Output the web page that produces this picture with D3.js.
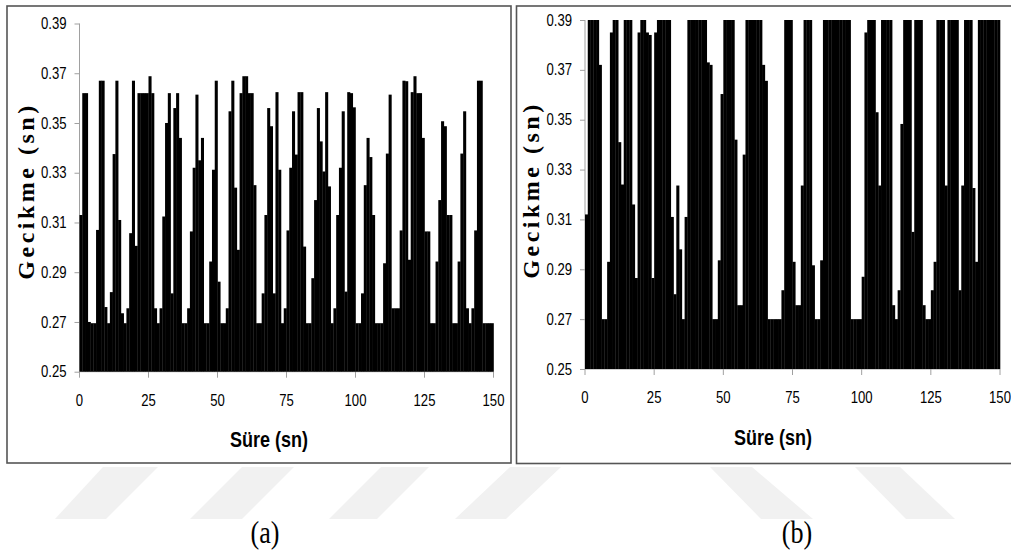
<!DOCTYPE html>
<html>
<head>
<meta charset="utf-8">
<script src="https://cdn.jsdelivr.net/npm/d3@7"></script>
<style>
  html, body { margin: 0; padding: 0; background: #fff; }
  svg { display: block; }
  .axis text { font-family: "Liberation Sans", Arial, sans-serif; font-size: 16px; fill: #000; }
  .axis line, .axis path { stroke: #a0a0a0; }
</style>
</head>
<body>
<div id="chart"></div>
<script>
// tick labels
var timeTicks = [0, 25, 50, 75, 100, 125, 150];
var delayTicks = [0.25, 0.27, 0.29, 0.31, 0.33, 0.35, 0.37, 0.39];
var yTitle = "Gecikme (sn)";
var xTitle = "Süre (sn)";
var captions = ["(a)", "(b)"];

// peak delay per second, panel (a)
var delayA = [
  0.313, 0.362, 0.362, 0.270, 0.2695, 0.2695, 0.307, 0.367, 0.367, 0.276,
  0.2695, 0.282, 0.3375, 0.367, 0.311, 0.2735, 0.2695, 0.2755, 0.3057, 0.367,
  0.3006, 0.362, 0.362, 0.362, 0.362, 0.3688, 0.362, 0.2755, 0.2695, 0.2755,
  0.3124, 0.350, 0.362, 0.2815, 0.356, 0.362, 0.344, 0.2695, 0.2695, 0.2755,
  0.3064, 0.332, 0.3614, 0.335, 0.344, 0.2695, 0.2695, 0.2943, 0.3312, 0.367,
  0.2862, 0.2695, 0.2695, 0.2755, 0.3547, 0.367, 0.324, 0.299, 0.362, 0.3688,
  0.3688, 0.362, 0.362, 0.325, 0.2695, 0.2695, 0.2815, 0.313, 0.356, 0.3487,
  0.2815, 0.3624, 0.3312, 0.2695, 0.2755, 0.3068, 0.332, 0.3547, 0.3373, 0.3624,
  0.3624, 0.3003, 0.2695, 0.2695, 0.2876, 0.319, 0.356, 0.3426, 0.3305, 0.3624,
  0.3245, 0.2695, 0.2755, 0.313, 0.332, 0.3547, 0.2822, 0.3624, 0.362, 0.3563,
  0.2695, 0.2695, 0.2815, 0.325, 0.344, 0.3363, 0.313, 0.2695, 0.2695, 0.2695,
  0.2936, 0.3377, 0.3614, 0.2755, 0.2755, 0.2755, 0.3068, 0.367, 0.3668, 0.295,
  0.3624, 0.3688, 0.362, 0.362, 0.344, 0.3064, 0.3064, 0.2695, 0.2695, 0.2943,
  0.319, 0.3507, 0.3487, 0.313, 0.313, 0.2695, 0.2695, 0.2943, 0.3377, 0.3547,
  0.2755, 0.2695, 0.2755, 0.3068, 0.367, 0.367, 0.2695, 0.2695, 0.2695, 0.2695
];

// peak delay per second, panel (b) (clipped at 0.39)
var delayB = [
  0.312, 0.39, 0.39, 0.39, 0.39, 0.372, 0.27, 0.27, 0.293, 0.385,
  0.39, 0.39, 0.341, 0.324, 0.39, 0.39, 0.39, 0.316, 0.2865, 0.385,
  0.39, 0.39, 0.385, 0.384, 0.2865, 0.385, 0.39, 0.39, 0.39, 0.39,
  0.39, 0.311, 0.28, 0.3236, 0.298, 0.27, 0.311, 0.39, 0.39, 0.39,
  0.39, 0.39, 0.39, 0.39, 0.373, 0.372, 0.27, 0.27, 0.2936, 0.3603,
  0.39, 0.39, 0.39, 0.39, 0.342, 0.2756, 0.2756, 0.336, 0.39, 0.39,
  0.39, 0.39, 0.39, 0.39, 0.372, 0.3656, 0.27, 0.27, 0.27, 0.27,
  0.27, 0.2816, 0.39, 0.39, 0.39, 0.293, 0.2756, 0.2756, 0.3236, 0.39,
  0.39, 0.39, 0.2916, 0.27, 0.27, 0.2936, 0.39, 0.39, 0.39, 0.39,
  0.39, 0.39, 0.39, 0.39, 0.39, 0.39, 0.27, 0.27, 0.27, 0.27,
  0.287, 0.385, 0.39, 0.39, 0.39, 0.353, 0.3236, 0.39, 0.39, 0.39,
  0.39, 0.2756, 0.27, 0.2816, 0.3483, 0.39, 0.39, 0.39, 0.305, 0.39,
  0.39, 0.39, 0.2756, 0.27, 0.27, 0.2816, 0.293, 0.39, 0.39, 0.39,
  0.3236, 0.39, 0.39, 0.39, 0.39, 0.2816, 0.3236, 0.39, 0.39, 0.39,
  0.3226, 0.293, 0.39, 0.39, 0.39, 0.39, 0.39, 0.39, 0.39, 0.39
];

var width = 1011, height = 552;
var narrow = 0.82; // squeeze factor, the source fonts are condensed

var svg = d3.select("#chart")
  .append("svg")
  .attr("width", width)
  .attr("height", height);

// faint watermark stripes under the panels
var stripes = [
  [[103, 467], [158, 467], [106, 519], [55, 519]],
  [[242, 467], [294, 467], [242, 519], [190, 519]],
  [[381, 467], [429, 467], [377, 519], [329, 519]],
  [[510, 467], [561, 467], [506, 519], [455, 519]],
  [[710, 467], [752, 467], [813, 519], [761, 519]],
  [[855, 467], [900, 467], [955, 519], [906, 519]]
];
svg.append("g")
  .selectAll("polygon")
  .data(stripes)
  .enter().append("polygon")
  .attr("points", function(d) { return d.join(" "); })
  .attr("fill", "#f1f1f1");

var panels = [
  { values: delayA, frame: [7, 6, 504, 457], left: 79.5, right: 493.5, top: 23.5, bottom: 371.7,
    yTitleX: 34, yTitleY: 191, xTitleX: 269, xTitleY: 447, captionX: 265, captionY: 543 },
  { values: delayB, frame: [516.5, 6, 500, 457.5], left: 585, right: 1000, top: 20, bottom: 369,
    yTitleX: 539, yTitleY: 190, xTitleX: 773, xTitleY: 445, captionX: 797, captionY: 543 }
];

panels.forEach(function(p, k) {
  var xPositionScale = d3.scaleLinear()
    .domain([timeTicks[0], timeTicks[timeTicks.length - 1]])
    .range([p.left, p.right]);

  var yPositionScale = d3.scaleLinear()
    .domain([delayTicks[0], delayTicks[delayTicks.length - 1]])
    .range([p.bottom, p.top]);

  var g = svg.append("g");

  g.append("rect")
    .attr("x", p.frame[0])
    .attr("y", p.frame[1])
    .attr("width", p.frame[2])
    .attr("height", p.frame[3])
    .attr("fill", "#fff")
    .attr("stroke", "#555")
    .attr("stroke-width", 1.6);

  // axes first, bars drawn over them
  var yAxis = d3.axisLeft(yPositionScale)
    .tickValues(delayTicks)
    .tickFormat(d3.format(".2f"))
    .tickSize(5)
    .tickPadding(8);
  g.append("g")
    .attr("class", "axis y-axis")
    .attr("transform", "translate(" + p.left + ",0)")
    .call(yAxis);

  var xAxis = d3.axisBottom(xPositionScale)
    .tickValues(timeTicks)
    .tickSize(6)
    .tickPadding(17);
  g.append("g")
    .attr("class", "axis x-axis")
    .attr("transform", "translate(0," + p.bottom + ")")
    .call(xAxis);

  g.selectAll(".y-axis text")
    .attr("x", -13 / narrow)
    .attr("transform", "scale(" + narrow + ",1)");
  g.selectAll(".x-axis text")
    .attr("transform", "scale(" + narrow + ",1)")
    .attr("x", function() { return 0; });
  g.selectAll(".x-axis .tick")
    .attr("transform", function(d) { return "translate(" + xPositionScale(d) + ",0)"; });

  g.selectAll(".axis .domain")
    .attr("d", null);
  g.select(".y-axis").append("line")
    .attr("y1", p.top).attr("y2", p.bottom)
    .attr("stroke", "#a0a0a0");
  g.select(".x-axis").append("line")
    .attr("x1", p.left).attr("x2", p.right)
    .attr("stroke", "#a0a0a0");

  var step = xPositionScale(1) - xPositionScale(0);
  g.append("g")
    .selectAll("rect")
    .data(p.values)
    .enter().append("rect")
    .attr("x", function(d, i) { return xPositionScale(i); })
    .attr("width", step + 0.3)
    .attr("y", function(d) { return yPositionScale(d); })
    .attr("height", function(d) { return yPositionScale(delayTicks[0]) - yPositionScale(d); })
    .attr("fill", "#000");

  g.append("text")
    .attr("transform", "translate(" + p.yTitleX + "," + p.yTitleY + ") rotate(-90)")
    .attr("text-anchor", "middle")
    .style("font-family", "'Liberation Serif', 'Times New Roman', serif")
    .style("font-weight", "bold")
    .style("font-size", "24px")
    .style("letter-spacing", "3.5px")
    .text(yTitle);

  g.append("text")
    .attr("transform", "translate(" + p.xTitleX + "," + p.xTitleY + ") scale(" + narrow + ",1)")
    .attr("text-anchor", "middle")
    .style("font-family", "'Liberation Sans', Arial, sans-serif")
    .style("font-weight", "bold")
    .style("font-size", "22px")
    .text(xTitle);

  svg.append("text")
    .attr("transform", "translate(" + p.captionX + "," + p.captionY + ") scale(0.9,1.1)")
    .attr("text-anchor", "middle")
    .style("font-family", "'Liberation Serif', 'Times New Roman', serif")
    .style("font-size", "29px")
    .text(captions[k]);
});
</script>
</body>
</html>
